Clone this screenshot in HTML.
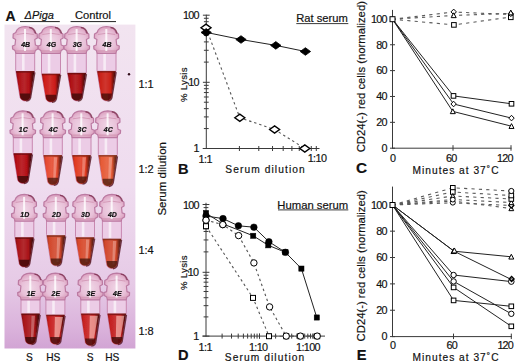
<!DOCTYPE html>
<html><head><meta charset="utf-8"><style>
html,body{margin:0;padding:0;background:#fff;}
body{width:520px;height:364px;position:relative;overflow:hidden;font-family:"Liberation Sans", sans-serif;}
svg text{fill:#111;stroke:#111;stroke-width:0.18px;}
</style></head><body>
<svg style="position:absolute;left:0;top:0" width="520" height="364" viewBox="0 0 520 364"><defs><radialGradient id="capg" cx="0.5" cy="0.55" r="0.6"><stop offset="0" stop-color="#f0d6e6"/><stop offset="0.6" stop-color="#e8c0d8"/><stop offset="1" stop-color="#d898b8"/></radialGradient><filter id="bl" x="-5%" y="-5%" width="110%" height="110%"><feGaussianBlur stdDeviation="0.55"/></filter><linearGradient id="bgg" x1="0" y1="0" x2="0" y2="1"><stop offset="0" stop-color="#f2e4f0"/><stop offset="0.5" stop-color="#efdcef"/><stop offset="0.8" stop-color="#e6cae6"/><stop offset="0.93" stop-color="#dbb4dc"/><stop offset="1" stop-color="#d2a4d4"/></linearGradient><linearGradient id="lg0" x1="0" y1="0" x2="1" y2="0"><stop offset="0" stop-color="#890c11"/><stop offset="0.15" stop-color="#b01016"/><stop offset="0.45" stop-color="#b7272d"/><stop offset="0.72" stop-color="#b01016"/><stop offset="0.86" stop-color="#69090d"/><stop offset="1" stop-color="#340406"/></linearGradient><linearGradient id="lg1" x1="0" y1="0" x2="1" y2="0"><stop offset="0" stop-color="#9f1512"/><stop offset="0.15" stop-color="#cc1c18"/><stop offset="0.45" stop-color="#d1322f"/><stop offset="0.72" stop-color="#cc1c18"/><stop offset="0.86" stop-color="#7a100e"/><stop offset="1" stop-color="#3d0807"/></linearGradient><linearGradient id="lg2" x1="0" y1="0" x2="1" y2="0"><stop offset="0" stop-color="#870c0f"/><stop offset="0.15" stop-color="#ae1014"/><stop offset="0.45" stop-color="#b6272b"/><stop offset="0.72" stop-color="#ae1014"/><stop offset="0.86" stop-color="#68090c"/><stop offset="1" stop-color="#340406"/></linearGradient><linearGradient id="lg3" x1="0" y1="0" x2="1" y2="0"><stop offset="0" stop-color="#9d1812"/><stop offset="0.15" stop-color="#ca2018"/><stop offset="0.45" stop-color="#cf362f"/><stop offset="0.72" stop-color="#ca2018"/><stop offset="0.86" stop-color="#79130e"/><stop offset="1" stop-color="#3c0907"/></linearGradient><linearGradient id="lg4" x1="0" y1="0" x2="1" y2="0"><stop offset="0" stop-color="#8c0c11"/><stop offset="0.15" stop-color="#b41016"/><stop offset="0.45" stop-color="#bb272d"/><stop offset="0.72" stop-color="#b41016"/><stop offset="0.86" stop-color="#6c090d"/><stop offset="1" stop-color="#360406"/></linearGradient><linearGradient id="lg5" x1="0" y1="0" x2="1" y2="0"><stop offset="0" stop-color="#b33925"/><stop offset="0.15" stop-color="#e64a30"/><stop offset="0.45" stop-color="#e85c44"/><stop offset="0.72" stop-color="#e64a30"/><stop offset="0.86" stop-color="#8a2c1c"/><stop offset="1" stop-color="#45160e"/></linearGradient><linearGradient id="lg6" x1="0" y1="0" x2="1" y2="0"><stop offset="0" stop-color="#ae2e1a"/><stop offset="0.15" stop-color="#e03c22"/><stop offset="0.45" stop-color="#e34f38"/><stop offset="0.72" stop-color="#e03c22"/><stop offset="0.86" stop-color="#862414"/><stop offset="1" stop-color="#43120a"/></linearGradient><linearGradient id="lg7" x1="0" y1="0" x2="1" y2="0"><stop offset="0" stop-color="#b3462a"/><stop offset="0.15" stop-color="#e65a36"/><stop offset="0.45" stop-color="#e86a4a"/><stop offset="0.72" stop-color="#e65a36"/><stop offset="0.86" stop-color="#8a3620"/><stop offset="1" stop-color="#451b10"/></linearGradient><linearGradient id="lg8" x1="0" y1="0" x2="1" y2="0"><stop offset="0" stop-color="#840f12"/><stop offset="0.15" stop-color="#aa1418"/><stop offset="0.45" stop-color="#b22b2f"/><stop offset="0.72" stop-color="#aa1418"/><stop offset="0.86" stop-color="#660c0e"/><stop offset="1" stop-color="#330607"/></linearGradient><linearGradient id="lg9" x1="0" y1="0" x2="1" y2="0"><stop offset="0" stop-color="#a33822"/><stop offset="0.15" stop-color="#d2482c"/><stop offset="0.45" stop-color="#d65a41"/><stop offset="0.72" stop-color="#d2482c"/><stop offset="0.86" stop-color="#7e2b1a"/><stop offset="1" stop-color="#3f150d"/></linearGradient><linearGradient id="lg10" x1="0" y1="0" x2="1" y2="0"><stop offset="0" stop-color="#a83820"/><stop offset="0.15" stop-color="#d8482a"/><stop offset="0.45" stop-color="#db5a3f"/><stop offset="0.72" stop-color="#d8482a"/><stop offset="0.86" stop-color="#812b19"/><stop offset="1" stop-color="#40150c"/></linearGradient><linearGradient id="lg11" x1="0" y1="0" x2="1" y2="0"><stop offset="0" stop-color="#830f12"/><stop offset="0.15" stop-color="#a81418"/><stop offset="0.45" stop-color="#b02b2f"/><stop offset="0.72" stop-color="#a81418"/><stop offset="0.86" stop-color="#640c0e"/><stop offset="1" stop-color="#320607"/></linearGradient><linearGradient id="lg12" x1="0" y1="0" x2="1" y2="0"><stop offset="0" stop-color="#9c1818"/><stop offset="0.15" stop-color="#c82020"/><stop offset="0.45" stop-color="#cd3636"/><stop offset="0.72" stop-color="#c82020"/><stop offset="0.86" stop-color="#781313"/><stop offset="1" stop-color="#3c0909"/></linearGradient><linearGradient id="lg13" x1="0" y1="0" x2="1" y2="0"><stop offset="0" stop-color="#9c1a1a"/><stop offset="0.15" stop-color="#c82222"/><stop offset="0.45" stop-color="#cd3838"/><stop offset="0.72" stop-color="#c82222"/><stop offset="0.86" stop-color="#781414"/><stop offset="1" stop-color="#3c0a0a"/></linearGradient><linearGradient id="lg14" x1="0" y1="0" x2="1" y2="0"><stop offset="0" stop-color="#981818"/><stop offset="0.15" stop-color="#c42020"/><stop offset="0.45" stop-color="#c93636"/><stop offset="0.72" stop-color="#c42020"/><stop offset="0.86" stop-color="#751313"/><stop offset="1" stop-color="#3a0909"/></linearGradient></defs><rect x="4.5" y="24.6" width="130.9" height="323.9" fill="url(#bgg)"/><g filter="url(#bl)"><path d="M15.70,52.50 L34.70,52.50 L34.70,70.30 L30.60,96.00 A5.40,5.00 0 0 1 19.80,96.00 L15.70,70.30 Z" fill="#ecccE6" stroke="#c888b0" stroke-width="1"/><path d="M15.96,71.30 L34.44,71.30 L30.50,96.00 A5.30,4.90 0 0 1 19.90,96.00 Z" fill="url(#lg0)"/><path d="M34.90,72.30 L30.90,96.00 A5.70,5.30 0 0 1 26.20,101.20" fill="none" stroke="#4a0c14" stroke-width="1.3" opacity="0.75"/><rect x="16.20" y="71.00" width="18.00" height="1.6" fill="#69090d" opacity="0.8"/><path d="M19.90,93.50 L30.50,93.50 L30.20,96.00 A5.00,4.60 0 0 1 20.20,96.00Z" fill="#3d0507" opacity="0.8"/><rect x="22.00" y="53.50" width="2.6" height="16.80" fill="#ffffff" opacity="0.6"/><path d="M15.90,53.30 L15.10,50.50 L12.60,49.00 L12.40,46.00 L15.00,45.00 L15.60,39.50 L13.00,38.00 L13.20,34.00 L15.80,32.50 Q17.10,26.70 25.20,26.50 Q33.30,26.70 34.60,32.50 L37.20,34.00 L37.40,38.00 L34.80,39.50 L35.40,45.00 L38.00,46.00 L37.80,49.00 L35.30,50.50 L34.50,53.30 Z" fill="url(#capg)" stroke="#bc7aa2" stroke-width="1.2" stroke-linejoin="round"/><rect x="15.60" y="50.10" width="19.20" height="2" fill="#cf8fae" opacity="0.6"/><path d="M16.60,34.50 Q25.20,32.00 33.80,34.50" fill="none" stroke="#cc8aaa" stroke-width="1" opacity="0.7"/><path d="M29.20,27.50 Q34.70,28.00 35.70,33.50" fill="none" stroke="#7a2a48" stroke-width="1.4" opacity="0.75"/><rect x="24.00" y="29.00" width="2" height="22" fill="#ffffff" opacity="0.8"/><text x="25.70" y="46.80" font-size="7" font-style="italic" font-weight="bold" text-anchor="middle" fill="#1a1a1a" font-family="Liberation Sans">4B</text><path d="M41.50,52.50 L60.50,52.50 L60.50,72.90 L56.40,97.20 A5.40,5.00 0 0 1 45.60,97.20 L41.50,72.90 Z" fill="#ecccE6" stroke="#c888b0" stroke-width="1"/><path d="M41.77,73.90 L60.23,73.90 L56.30,97.20 A5.30,4.90 0 0 1 45.70,97.20 Z" fill="url(#lg1)"/><path d="M60.70,74.90 L56.70,97.20 A5.70,5.30 0 0 1 52.00,102.40" fill="none" stroke="#4a0c14" stroke-width="1.3" opacity="0.75"/><rect x="42.00" y="73.60" width="18.00" height="1.6" fill="#7a100e" opacity="0.8"/><path d="M45.70,94.70 L56.30,94.70 L56.00,97.20 A5.00,4.60 0 0 1 46.00,97.20Z" fill="#470908" opacity="0.8"/><rect x="47.80" y="53.50" width="2.6" height="19.40" fill="#ffffff" opacity="0.6"/><path d="M41.70,53.30 L40.90,50.50 L38.40,49.00 L38.20,46.00 L40.80,45.00 L41.40,39.50 L38.80,38.00 L39.00,34.00 L41.60,32.50 Q42.90,26.70 51.00,26.50 Q59.10,26.70 60.40,32.50 L63.00,34.00 L63.20,38.00 L60.60,39.50 L61.20,45.00 L63.80,46.00 L63.60,49.00 L61.10,50.50 L60.30,53.30 Z" fill="url(#capg)" stroke="#bc7aa2" stroke-width="1.2" stroke-linejoin="round"/><rect x="41.40" y="50.10" width="19.20" height="2" fill="#cf8fae" opacity="0.6"/><path d="M42.40,34.50 Q51.00,32.00 59.60,34.50" fill="none" stroke="#cc8aaa" stroke-width="1" opacity="0.7"/><path d="M55.00,27.50 Q60.50,28.00 61.50,33.50" fill="none" stroke="#7a2a48" stroke-width="1.4" opacity="0.75"/><rect x="49.80" y="29.00" width="2" height="22" fill="#ffffff" opacity="0.8"/><text x="51.50" y="46.80" font-size="7" font-style="italic" font-weight="bold" text-anchor="middle" fill="#1a1a1a" font-family="Liberation Sans">4G</text><path d="M67.30,52.50 L86.30,52.50 L86.30,72.10 L82.20,95.90 A5.40,5.00 0 0 1 71.40,95.90 L67.30,72.10 Z" fill="#ecccE6" stroke="#c888b0" stroke-width="1"/><path d="M67.57,73.10 L86.03,73.10 L82.10,95.90 A5.30,4.90 0 0 1 71.50,95.90 Z" fill="url(#lg2)"/><path d="M86.50,74.10 L82.50,95.90 A5.70,5.30 0 0 1 77.80,101.10" fill="none" stroke="#4a0c14" stroke-width="1.3" opacity="0.75"/><rect x="67.80" y="72.80" width="18.00" height="1.6" fill="#68090c" opacity="0.8"/><path d="M71.50,93.40 L82.10,93.40 L81.80,95.90 A5.00,4.60 0 0 1 71.80,95.90Z" fill="#3c0507" opacity="0.8"/><rect x="73.60" y="53.50" width="2.6" height="18.60" fill="#ffffff" opacity="0.6"/><path d="M67.50,53.30 L66.70,50.50 L64.20,49.00 L64.00,46.00 L66.60,45.00 L67.20,39.50 L64.60,38.00 L64.80,34.00 L67.40,32.50 Q68.70,26.70 76.80,26.50 Q84.90,26.70 86.20,32.50 L88.80,34.00 L89.00,38.00 L86.40,39.50 L87.00,45.00 L89.60,46.00 L89.40,49.00 L86.90,50.50 L86.10,53.30 Z" fill="url(#capg)" stroke="#bc7aa2" stroke-width="1.2" stroke-linejoin="round"/><rect x="67.20" y="50.10" width="19.20" height="2" fill="#cf8fae" opacity="0.6"/><path d="M68.20,34.50 Q76.80,32.00 85.40,34.50" fill="none" stroke="#cc8aaa" stroke-width="1" opacity="0.7"/><path d="M80.80,27.50 Q86.30,28.00 87.30,33.50" fill="none" stroke="#7a2a48" stroke-width="1.4" opacity="0.75"/><rect x="75.60" y="29.00" width="2" height="22" fill="#ffffff" opacity="0.8"/><text x="77.30" y="46.80" font-size="7" font-style="italic" font-weight="bold" text-anchor="middle" fill="#1a1a1a" font-family="Liberation Sans">3G</text><path d="M97.00,52.50 L116.00,52.50 L116.00,70.20 L111.90,95.90 A5.40,5.00 0 0 1 101.10,95.90 L97.00,70.20 Z" fill="#ecccE6" stroke="#c888b0" stroke-width="1"/><path d="M97.26,71.20 L115.74,71.20 L111.80,95.90 A5.30,4.90 0 0 1 101.20,95.90 Z" fill="url(#lg3)"/><path d="M116.20,72.20 L112.20,95.90 A5.70,5.30 0 0 1 107.50,101.10" fill="none" stroke="#4a0c14" stroke-width="1.3" opacity="0.75"/><rect x="97.50" y="70.90" width="18.00" height="1.6" fill="#79130e" opacity="0.8"/><path d="M101.20,93.40 L111.80,93.40 L111.50,95.90 A5.00,4.60 0 0 1 101.50,95.90Z" fill="#460b08" opacity="0.8"/><rect x="103.30" y="53.50" width="2.6" height="16.70" fill="#ffffff" opacity="0.6"/><path d="M97.20,53.30 L96.40,50.50 L93.90,49.00 L93.70,46.00 L96.30,45.00 L96.90,39.50 L94.30,38.00 L94.50,34.00 L97.10,32.50 Q98.40,26.70 106.50,26.50 Q114.60,26.70 115.90,32.50 L118.50,34.00 L118.70,38.00 L116.10,39.50 L116.70,45.00 L119.30,46.00 L119.10,49.00 L116.60,50.50 L115.80,53.30 Z" fill="url(#capg)" stroke="#bc7aa2" stroke-width="1.2" stroke-linejoin="round"/><rect x="96.90" y="50.10" width="19.20" height="2" fill="#cf8fae" opacity="0.6"/><path d="M97.90,34.50 Q106.50,32.00 115.10,34.50" fill="none" stroke="#cc8aaa" stroke-width="1" opacity="0.7"/><path d="M110.50,27.50 Q116.00,28.00 117.00,33.50" fill="none" stroke="#7a2a48" stroke-width="1.4" opacity="0.75"/><rect x="105.30" y="29.00" width="2" height="22" fill="#ffffff" opacity="0.8"/><text x="107.00" y="46.80" font-size="7" font-style="italic" font-weight="bold" text-anchor="middle" fill="#1a1a1a" font-family="Liberation Sans">4B</text><path d="M13.30,136.80 L32.30,136.80 L32.30,152.50 L28.20,178.50 A5.40,5.00 0 0 1 17.40,178.50 L13.30,152.50 Z" fill="#ecccE6" stroke="#c888b0" stroke-width="1"/><path d="M13.56,153.50 L32.04,153.50 L28.10,178.50 A5.30,4.90 0 0 1 17.50,178.50 Z" fill="url(#lg4)"/><path d="M32.50,154.50 L28.50,178.50 A5.70,5.30 0 0 1 23.80,183.70" fill="none" stroke="#4a0c14" stroke-width="1.3" opacity="0.75"/><rect x="13.80" y="153.20" width="18.00" height="1.6" fill="#6c090d" opacity="0.8"/><path d="M17.50,176.00 L28.10,176.00 L27.80,178.50 A5.00,4.60 0 0 1 17.80,178.50Z" fill="#3e0507" opacity="0.8"/><rect x="19.60" y="137.80" width="2.6" height="14.70" fill="#ffffff" opacity="0.6"/><path d="M13.50,137.60 L12.70,134.80 L10.20,133.30 L10.00,130.30 L12.60,129.30 L13.20,123.80 L10.60,122.30 L10.80,118.30 L13.40,116.80 Q14.70,111.00 22.80,110.80 Q30.90,111.00 32.20,116.80 L34.80,118.30 L35.00,122.30 L32.40,123.80 L33.00,129.30 L35.60,130.30 L35.40,133.30 L32.90,134.80 L32.10,137.60 Z" fill="url(#capg)" stroke="#bc7aa2" stroke-width="1.2" stroke-linejoin="round"/><rect x="13.20" y="134.40" width="19.20" height="2" fill="#cf8fae" opacity="0.6"/><path d="M14.20,118.80 Q22.80,116.30 31.40,118.80" fill="none" stroke="#cc8aaa" stroke-width="1" opacity="0.7"/><path d="M26.80,111.80 Q32.30,112.30 33.30,117.80" fill="none" stroke="#7a2a48" stroke-width="1.4" opacity="0.75"/><rect x="21.60" y="113.30" width="2" height="22" fill="#ffffff" opacity="0.8"/><text x="23.30" y="131.60" font-size="7" font-style="italic" font-weight="bold" text-anchor="middle" fill="#1a1a1a" font-family="Liberation Sans">1C</text><path d="M43.30,136.80 L62.30,136.80 L62.30,154.30 L58.20,180.20 A5.40,5.00 0 0 1 47.40,180.20 L43.30,154.30 Z" fill="#ecccE6" stroke="#c888b0" stroke-width="1"/><path d="M43.56,155.30 L62.04,155.30 L58.10,180.20 A5.30,4.90 0 0 1 47.50,180.20 Z" fill="url(#lg5)"/><path d="M53.80,157.30 L57.30,157.30 L55.40,181.20 L53.20,181.20 Z" fill="#ffffff" opacity="0.3"/><path d="M62.50,156.30 L58.50,180.20 A5.70,5.30 0 0 1 53.80,185.40" fill="none" stroke="#4a0c14" stroke-width="1.3" opacity="0.75"/><rect x="43.80" y="155.00" width="18.00" height="1.6" fill="#8a2c1c" opacity="0.8"/><path d="M47.50,177.70 L58.10,177.70 L57.80,180.20 A5.00,4.60 0 0 1 47.80,180.20Z" fill="#501910" opacity="0.8"/><rect x="49.60" y="137.80" width="2.6" height="16.50" fill="#ffffff" opacity="0.6"/><path d="M43.50,137.60 L42.70,134.80 L40.20,133.30 L40.00,130.30 L42.60,129.30 L43.20,123.80 L40.60,122.30 L40.80,118.30 L43.40,116.80 Q44.70,111.00 52.80,110.80 Q60.90,111.00 62.20,116.80 L64.80,118.30 L65.00,122.30 L62.40,123.80 L63.00,129.30 L65.60,130.30 L65.40,133.30 L62.90,134.80 L62.10,137.60 Z" fill="url(#capg)" stroke="#bc7aa2" stroke-width="1.2" stroke-linejoin="round"/><rect x="43.20" y="134.40" width="19.20" height="2" fill="#cf8fae" opacity="0.6"/><path d="M44.20,118.80 Q52.80,116.30 61.40,118.80" fill="none" stroke="#cc8aaa" stroke-width="1" opacity="0.7"/><path d="M56.80,111.80 Q62.30,112.30 63.30,117.80" fill="none" stroke="#7a2a48" stroke-width="1.4" opacity="0.75"/><rect x="51.60" y="113.30" width="2" height="22" fill="#ffffff" opacity="0.8"/><text x="53.30" y="131.60" font-size="7" font-style="italic" font-weight="bold" text-anchor="middle" fill="#1a1a1a" font-family="Liberation Sans">4C</text><path d="M72.00,136.80 L91.00,136.80 L91.00,154.30 L86.90,179.00 A5.40,5.00 0 0 1 76.10,179.00 L72.00,154.30 Z" fill="#ecccE6" stroke="#c888b0" stroke-width="1"/><path d="M72.27,155.30 L90.73,155.30 L86.80,179.00 A5.30,4.90 0 0 1 76.20,179.00 Z" fill="url(#lg6)"/><path d="M82.50,157.30 L86.00,157.30 L84.10,180.00 L81.90,180.00 Z" fill="#ffffff" opacity="0.3"/><path d="M91.20,156.30 L87.20,179.00 A5.70,5.30 0 0 1 82.50,184.20" fill="none" stroke="#4a0c14" stroke-width="1.3" opacity="0.75"/><rect x="72.50" y="155.00" width="18.00" height="1.6" fill="#862414" opacity="0.8"/><path d="M76.20,176.50 L86.80,176.50 L86.50,179.00 A5.00,4.60 0 0 1 76.50,179.00Z" fill="#4e150b" opacity="0.8"/><rect x="78.30" y="137.80" width="2.6" height="16.50" fill="#ffffff" opacity="0.6"/><path d="M72.20,137.60 L71.40,134.80 L68.90,133.30 L68.70,130.30 L71.30,129.30 L71.90,123.80 L69.30,122.30 L69.50,118.30 L72.10,116.80 Q73.40,111.00 81.50,110.80 Q89.60,111.00 90.90,116.80 L93.50,118.30 L93.70,122.30 L91.10,123.80 L91.70,129.30 L94.30,130.30 L94.10,133.30 L91.60,134.80 L90.80,137.60 Z" fill="url(#capg)" stroke="#bc7aa2" stroke-width="1.2" stroke-linejoin="round"/><rect x="71.90" y="134.40" width="19.20" height="2" fill="#cf8fae" opacity="0.6"/><path d="M72.90,118.80 Q81.50,116.30 90.10,118.80" fill="none" stroke="#cc8aaa" stroke-width="1" opacity="0.7"/><path d="M85.50,111.80 Q91.00,112.30 92.00,117.80" fill="none" stroke="#7a2a48" stroke-width="1.4" opacity="0.75"/><rect x="80.30" y="113.30" width="2" height="22" fill="#ffffff" opacity="0.8"/><text x="82.00" y="131.60" font-size="7" font-style="italic" font-weight="bold" text-anchor="middle" fill="#1a1a1a" font-family="Liberation Sans">3C</text><path d="M98.30,136.80 L117.30,136.80 L117.30,154.30 L113.20,181.30 A5.40,5.00 0 0 1 102.40,181.30 L98.30,154.30 Z" fill="#ecccE6" stroke="#c888b0" stroke-width="1"/><path d="M98.55,155.30 L117.05,155.30 L113.10,181.30 A5.30,4.90 0 0 1 102.50,181.30 Z" fill="url(#lg7)"/><path d="M108.80,157.30 L112.30,157.30 L110.40,182.30 L108.20,182.30 Z" fill="#ffffff" opacity="0.3"/><path d="M117.50,156.30 L113.50,181.30 A5.70,5.30 0 0 1 108.80,186.50" fill="none" stroke="#4a0c14" stroke-width="1.3" opacity="0.75"/><rect x="98.80" y="155.00" width="18.00" height="1.6" fill="#8a3620" opacity="0.8"/><path d="M102.50,178.80 L113.10,178.80 L112.80,181.30 A5.00,4.60 0 0 1 102.80,181.30Z" fill="#501f12" opacity="0.8"/><rect x="104.60" y="137.80" width="2.6" height="16.50" fill="#ffffff" opacity="0.6"/><path d="M98.50,137.60 L97.70,134.80 L95.20,133.30 L95.00,130.30 L97.60,129.30 L98.20,123.80 L95.60,122.30 L95.80,118.30 L98.40,116.80 Q99.70,111.00 107.80,110.80 Q115.90,111.00 117.20,116.80 L119.80,118.30 L120.00,122.30 L117.40,123.80 L118.00,129.30 L120.60,130.30 L120.40,133.30 L117.90,134.80 L117.10,137.60 Z" fill="url(#capg)" stroke="#bc7aa2" stroke-width="1.2" stroke-linejoin="round"/><rect x="98.20" y="134.40" width="19.20" height="2" fill="#cf8fae" opacity="0.6"/><path d="M99.20,118.80 Q107.80,116.30 116.40,118.80" fill="none" stroke="#cc8aaa" stroke-width="1" opacity="0.7"/><path d="M111.80,111.80 Q117.30,112.30 118.30,117.80" fill="none" stroke="#7a2a48" stroke-width="1.4" opacity="0.75"/><rect x="106.60" y="113.30" width="2" height="22" fill="#ffffff" opacity="0.8"/><text x="108.30" y="131.60" font-size="7" font-style="italic" font-weight="bold" text-anchor="middle" fill="#1a1a1a" font-family="Liberation Sans">4C</text><path d="M14.80,220.40 L33.80,220.40 L33.80,236.60 L29.70,262.20 A5.40,5.00 0 0 1 18.90,262.20 L14.80,236.60 Z" fill="#ecccE6" stroke="#c888b0" stroke-width="1"/><path d="M15.06,237.60 L33.54,237.60 L29.60,262.20 A5.30,4.90 0 0 1 19.00,262.20 Z" fill="url(#lg8)"/><path d="M34.00,238.60 L30.00,262.20 A5.70,5.30 0 0 1 25.30,267.40" fill="none" stroke="#4a0c14" stroke-width="1.3" opacity="0.75"/><rect x="15.30" y="237.30" width="18.00" height="1.6" fill="#660c0e" opacity="0.8"/><path d="M19.00,259.70 L29.60,259.70 L29.30,262.20 A5.00,4.60 0 0 1 19.30,262.20Z" fill="#3b0708" opacity="0.8"/><rect x="21.10" y="221.40" width="2.6" height="15.20" fill="#ffffff" opacity="0.6"/><path d="M15.00,221.20 L14.20,218.40 L11.70,216.90 L11.50,213.90 L14.10,212.90 L14.70,207.40 L12.10,205.90 L12.30,201.90 L14.90,200.40 Q16.20,194.60 24.30,194.40 Q32.40,194.60 33.70,200.40 L36.30,201.90 L36.50,205.90 L33.90,207.40 L34.50,212.90 L37.10,213.90 L36.90,216.90 L34.40,218.40 L33.60,221.20 Z" fill="url(#capg)" stroke="#bc7aa2" stroke-width="1.2" stroke-linejoin="round"/><rect x="14.70" y="218.00" width="19.20" height="2" fill="#cf8fae" opacity="0.6"/><path d="M15.70,202.40 Q24.30,199.90 32.90,202.40" fill="none" stroke="#cc8aaa" stroke-width="1" opacity="0.7"/><path d="M28.30,195.40 Q33.80,195.90 34.80,201.40" fill="none" stroke="#7a2a48" stroke-width="1.4" opacity="0.75"/><rect x="23.10" y="196.90" width="2" height="22" fill="#ffffff" opacity="0.8"/><text x="24.80" y="216.70" font-size="7" font-style="italic" font-weight="bold" text-anchor="middle" fill="#1a1a1a" font-family="Liberation Sans">1D</text><path d="M46.50,220.40 L65.50,220.40 L65.50,234.50 L61.40,260.90 A5.40,5.00 0 0 1 50.60,260.90 L46.50,234.50 Z" fill="#ecccE6" stroke="#c888b0" stroke-width="1"/><path d="M46.76,235.50 L65.24,235.50 L61.30,260.90 A5.30,4.90 0 0 1 50.70,260.90 Z" fill="url(#lg9)"/><path d="M57.00,237.50 L60.50,237.50 L58.60,261.90 L56.40,261.90 Z" fill="#ffffff" opacity="0.3"/><path d="M65.70,236.50 L61.70,260.90 A5.70,5.30 0 0 1 57.00,266.10" fill="none" stroke="#4a0c14" stroke-width="1.3" opacity="0.75"/><rect x="47.00" y="235.20" width="18.00" height="1.6" fill="#7e2b1a" opacity="0.8"/><path d="M50.70,258.40 L61.30,258.40 L61.00,260.90 A5.00,4.60 0 0 1 51.00,260.90Z" fill="#49190f" opacity="0.8"/><rect x="52.80" y="221.40" width="2.6" height="13.10" fill="#ffffff" opacity="0.6"/><path d="M46.70,221.20 L45.90,218.40 L43.40,216.90 L43.20,213.90 L45.80,212.90 L46.40,207.40 L43.80,205.90 L44.00,201.90 L46.60,200.40 Q47.90,194.60 56.00,194.40 Q64.10,194.60 65.40,200.40 L68.00,201.90 L68.20,205.90 L65.60,207.40 L66.20,212.90 L68.80,213.90 L68.60,216.90 L66.10,218.40 L65.30,221.20 Z" fill="url(#capg)" stroke="#bc7aa2" stroke-width="1.2" stroke-linejoin="round"/><rect x="46.40" y="218.00" width="19.20" height="2" fill="#cf8fae" opacity="0.6"/><path d="M47.40,202.40 Q56.00,199.90 64.60,202.40" fill="none" stroke="#cc8aaa" stroke-width="1" opacity="0.7"/><path d="M60.00,195.40 Q65.50,195.90 66.50,201.40" fill="none" stroke="#7a2a48" stroke-width="1.4" opacity="0.75"/><rect x="54.80" y="196.90" width="2" height="22" fill="#ffffff" opacity="0.8"/><text x="56.50" y="216.70" font-size="7" font-style="italic" font-weight="bold" text-anchor="middle" fill="#1a1a1a" font-family="Liberation Sans">2D</text><path d="M75.50,220.40 L94.50,220.40 L94.50,236.60 L90.40,260.90 A5.40,5.00 0 0 1 79.60,260.90 L75.50,236.60 Z" fill="#ecccE6" stroke="#c888b0" stroke-width="1"/><path d="M75.77,237.60 L94.23,237.60 L90.30,260.90 A5.30,4.90 0 0 1 79.70,260.90 Z" fill="url(#lg10)"/><path d="M86.00,239.60 L89.50,239.60 L87.60,261.90 L85.40,261.90 Z" fill="#ffffff" opacity="0.3"/><path d="M94.70,238.60 L90.70,260.90 A5.70,5.30 0 0 1 86.00,266.10" fill="none" stroke="#4a0c14" stroke-width="1.3" opacity="0.75"/><rect x="76.00" y="237.30" width="18.00" height="1.6" fill="#812b19" opacity="0.8"/><path d="M79.70,258.40 L90.30,258.40 L90.00,260.90 A5.00,4.60 0 0 1 80.00,260.90Z" fill="#4b190e" opacity="0.8"/><rect x="81.80" y="221.40" width="2.6" height="15.20" fill="#ffffff" opacity="0.6"/><path d="M75.70,221.20 L74.90,218.40 L72.40,216.90 L72.20,213.90 L74.80,212.90 L75.40,207.40 L72.80,205.90 L73.00,201.90 L75.60,200.40 Q76.90,194.60 85.00,194.40 Q93.10,194.60 94.40,200.40 L97.00,201.90 L97.20,205.90 L94.60,207.40 L95.20,212.90 L97.80,213.90 L97.60,216.90 L95.10,218.40 L94.30,221.20 Z" fill="url(#capg)" stroke="#bc7aa2" stroke-width="1.2" stroke-linejoin="round"/><rect x="75.40" y="218.00" width="19.20" height="2" fill="#cf8fae" opacity="0.6"/><path d="M76.40,202.40 Q85.00,199.90 93.60,202.40" fill="none" stroke="#cc8aaa" stroke-width="1" opacity="0.7"/><path d="M89.00,195.40 Q94.50,195.90 95.50,201.40" fill="none" stroke="#7a2a48" stroke-width="1.4" opacity="0.75"/><rect x="83.80" y="196.90" width="2" height="22" fill="#ffffff" opacity="0.8"/><text x="85.50" y="216.70" font-size="7" font-style="italic" font-weight="bold" text-anchor="middle" fill="#1a1a1a" font-family="Liberation Sans">3D</text><path d="M102.40,220.40 L121.40,220.40 L121.40,237.90 L117.30,263.60 A5.40,5.00 0 0 1 106.50,263.60 L102.40,237.90 Z" fill="#ecccE6" stroke="#c888b0" stroke-width="1"/><path d="M102.66,238.90 L121.14,238.90 L117.20,263.60 A5.30,4.90 0 0 1 106.60,263.60 Z" fill="url(#lg9)"/><path d="M112.90,240.90 L116.40,240.90 L114.50,264.60 L112.30,264.60 Z" fill="#ffffff" opacity="0.3"/><path d="M121.60,239.90 L117.60,263.60 A5.70,5.30 0 0 1 112.90,268.80" fill="none" stroke="#4a0c14" stroke-width="1.3" opacity="0.75"/><rect x="102.90" y="238.60" width="18.00" height="1.6" fill="#7e2b1a" opacity="0.8"/><path d="M106.60,261.10 L117.20,261.10 L116.90,263.60 A5.00,4.60 0 0 1 106.90,263.60Z" fill="#49190f" opacity="0.8"/><rect x="108.70" y="221.40" width="2.6" height="16.50" fill="#ffffff" opacity="0.6"/><path d="M102.60,221.20 L101.80,218.40 L99.30,216.90 L99.10,213.90 L101.70,212.90 L102.30,207.40 L99.70,205.90 L99.90,201.90 L102.50,200.40 Q103.80,194.60 111.90,194.40 Q120.00,194.60 121.30,200.40 L123.90,201.90 L124.10,205.90 L121.50,207.40 L122.10,212.90 L124.70,213.90 L124.50,216.90 L122.00,218.40 L121.20,221.20 Z" fill="url(#capg)" stroke="#bc7aa2" stroke-width="1.2" stroke-linejoin="round"/><rect x="102.30" y="218.00" width="19.20" height="2" fill="#cf8fae" opacity="0.6"/><path d="M103.30,202.40 Q111.90,199.90 120.50,202.40" fill="none" stroke="#cc8aaa" stroke-width="1" opacity="0.7"/><path d="M115.90,195.40 Q121.40,195.90 122.40,201.40" fill="none" stroke="#7a2a48" stroke-width="1.4" opacity="0.75"/><rect x="110.70" y="196.90" width="2" height="22" fill="#ffffff" opacity="0.8"/><text x="112.40" y="216.70" font-size="7" font-style="italic" font-weight="bold" text-anchor="middle" fill="#1a1a1a" font-family="Liberation Sans">4D</text><path d="M21.00,299.10 L40.00,299.10 L40.00,312.80 L35.90,339.50 A5.40,5.00 0 0 1 25.10,339.50 L21.00,312.80 Z" fill="#ecccE6" stroke="#c888b0" stroke-width="1"/><path d="M21.25,313.80 L39.75,313.80 L35.80,339.50 A5.30,4.90 0 0 1 25.20,339.50 Z" fill="url(#lg11)"/><path d="M31.50,315.80 L35.00,315.80 L33.10,340.50 L30.90,340.50 Z" fill="#ffffff" opacity="0.3"/><path d="M40.20,314.80 L36.20,339.50 A5.70,5.30 0 0 1 31.50,344.70" fill="none" stroke="#4a0c14" stroke-width="1.3" opacity="0.75"/><rect x="21.50" y="313.50" width="18.00" height="1.6" fill="#640c0e" opacity="0.8"/><path d="M25.20,337.00 L35.80,337.00 L35.50,339.50 A5.00,4.60 0 0 1 25.50,339.50Z" fill="#3a0708" opacity="0.8"/><rect x="27.30" y="300.10" width="2.6" height="12.70" fill="#ffffff" opacity="0.6"/><path d="M21.20,299.90 L20.40,297.10 L17.90,295.60 L17.70,292.60 L20.30,291.60 L20.90,286.10 L18.30,284.60 L18.50,280.60 L21.10,279.10 Q22.40,273.30 30.50,273.10 Q38.60,273.30 39.90,279.10 L42.50,280.60 L42.70,284.60 L40.10,286.10 L40.70,291.60 L43.30,292.60 L43.10,295.60 L40.60,297.10 L39.80,299.90 Z" fill="url(#capg)" stroke="#bc7aa2" stroke-width="1.2" stroke-linejoin="round"/><rect x="20.90" y="296.70" width="19.20" height="2" fill="#cf8fae" opacity="0.6"/><path d="M21.90,281.10 Q30.50,278.60 39.10,281.10" fill="none" stroke="#cc8aaa" stroke-width="1" opacity="0.7"/><path d="M34.50,274.10 Q40.00,274.60 41.00,280.10" fill="none" stroke="#7a2a48" stroke-width="1.4" opacity="0.75"/><rect x="29.30" y="275.60" width="2" height="22" fill="#ffffff" opacity="0.8"/><text x="31.00" y="296.40" font-size="7" font-style="italic" font-weight="bold" text-anchor="middle" fill="#1a1a1a" font-family="Liberation Sans">1E</text><path d="M45.90,299.10 L64.90,299.10 L64.90,313.90 L60.80,339.50 A5.40,5.00 0 0 1 50.00,339.50 L45.90,313.90 Z" fill="#ecccE6" stroke="#c888b0" stroke-width="1"/><path d="M46.16,314.90 L64.64,314.90 L60.70,339.50 A5.30,4.90 0 0 1 50.10,339.50 Z" fill="url(#lg12)"/><path d="M54.90,316.90 L62.90,316.90 L58.90,338.50 L54.40,338.50 Z" fill="#ffd0c8" opacity="0.6"/><path d="M65.10,315.90 L61.10,339.50 A5.70,5.30 0 0 1 56.40,344.70" fill="none" stroke="#4a0c14" stroke-width="1.3" opacity="0.75"/><rect x="46.40" y="314.60" width="18.00" height="1.6" fill="#781313" opacity="0.8"/><path d="M50.10,337.00 L60.70,337.00 L60.40,339.50 A5.00,4.60 0 0 1 50.40,339.50Z" fill="#460b0b" opacity="0.8"/><rect x="52.20" y="300.10" width="2.6" height="13.80" fill="#ffffff" opacity="0.6"/><path d="M46.10,299.90 L45.30,297.10 L42.80,295.60 L42.60,292.60 L45.20,291.60 L45.80,286.10 L43.20,284.60 L43.40,280.60 L46.00,279.10 Q47.30,273.30 55.40,273.10 Q63.50,273.30 64.80,279.10 L67.40,280.60 L67.60,284.60 L65.00,286.10 L65.60,291.60 L68.20,292.60 L68.00,295.60 L65.50,297.10 L64.70,299.90 Z" fill="url(#capg)" stroke="#bc7aa2" stroke-width="1.2" stroke-linejoin="round"/><rect x="45.80" y="296.70" width="19.20" height="2" fill="#cf8fae" opacity="0.6"/><path d="M46.80,281.10 Q55.40,278.60 64.00,281.10" fill="none" stroke="#cc8aaa" stroke-width="1" opacity="0.7"/><path d="M59.40,274.10 Q64.90,274.60 65.90,280.10" fill="none" stroke="#7a2a48" stroke-width="1.4" opacity="0.75"/><rect x="54.20" y="275.60" width="2" height="22" fill="#ffffff" opacity="0.8"/><text x="55.90" y="296.40" font-size="7" font-style="italic" font-weight="bold" text-anchor="middle" fill="#1a1a1a" font-family="Liberation Sans">2E</text><path d="M80.80,299.10 L99.80,299.10 L99.80,312.80 L95.70,340.90 A5.40,5.00 0 0 1 84.90,340.90 L80.80,312.80 Z" fill="#ecccE6" stroke="#c888b0" stroke-width="1"/><path d="M81.05,313.80 L99.55,313.80 L95.60,340.90 A5.30,4.90 0 0 1 85.00,340.90 Z" fill="url(#lg13)"/><path d="M89.80,315.80 L97.80,315.80 L93.80,339.90 L89.30,339.90 Z" fill="#ffd0c8" opacity="0.6"/><path d="M100.00,314.80 L96.00,340.90 A5.70,5.30 0 0 1 91.30,346.10" fill="none" stroke="#4a0c14" stroke-width="1.3" opacity="0.75"/><rect x="81.30" y="313.50" width="18.00" height="1.6" fill="#781414" opacity="0.8"/><path d="M85.00,338.40 L95.60,338.40 L95.30,340.90 A5.00,4.60 0 0 1 85.30,340.90Z" fill="#460b0b" opacity="0.8"/><rect x="87.10" y="300.10" width="2.6" height="12.70" fill="#ffffff" opacity="0.6"/><path d="M81.00,299.90 L80.20,297.10 L77.70,295.60 L77.50,292.60 L80.10,291.60 L80.70,286.10 L78.10,284.60 L78.30,280.60 L80.90,279.10 Q82.20,273.30 90.30,273.10 Q98.40,273.30 99.70,279.10 L102.30,280.60 L102.50,284.60 L99.90,286.10 L100.50,291.60 L103.10,292.60 L102.90,295.60 L100.40,297.10 L99.60,299.90 Z" fill="url(#capg)" stroke="#bc7aa2" stroke-width="1.2" stroke-linejoin="round"/><rect x="80.70" y="296.70" width="19.20" height="2" fill="#cf8fae" opacity="0.6"/><path d="M81.70,281.10 Q90.30,278.60 98.90,281.10" fill="none" stroke="#cc8aaa" stroke-width="1" opacity="0.7"/><path d="M94.30,274.10 Q99.80,274.60 100.80,280.10" fill="none" stroke="#7a2a48" stroke-width="1.4" opacity="0.75"/><rect x="89.10" y="275.60" width="2" height="22" fill="#ffffff" opacity="0.8"/><text x="90.80" y="296.40" font-size="7" font-style="italic" font-weight="bold" text-anchor="middle" fill="#1a1a1a" font-family="Liberation Sans">3E</text><path d="M107.30,299.10 L126.30,299.10 L126.30,312.80 L122.20,339.50 A5.40,5.00 0 0 1 111.40,339.50 L107.30,312.80 Z" fill="#ecccE6" stroke="#c888b0" stroke-width="1"/><path d="M107.55,313.80 L126.05,313.80 L122.10,339.50 A5.30,4.90 0 0 1 111.50,339.50 Z" fill="url(#lg14)"/><path d="M116.30,315.80 L124.30,315.80 L120.30,338.50 L115.80,338.50 Z" fill="#ffd0c8" opacity="0.6"/><path d="M126.50,314.80 L122.50,339.50 A5.70,5.30 0 0 1 117.80,344.70" fill="none" stroke="#4a0c14" stroke-width="1.3" opacity="0.75"/><rect x="107.80" y="313.50" width="18.00" height="1.6" fill="#751313" opacity="0.8"/><path d="M111.50,337.00 L122.10,337.00 L121.80,339.50 A5.00,4.60 0 0 1 111.80,339.50Z" fill="#440b0b" opacity="0.8"/><rect x="113.60" y="300.10" width="2.6" height="12.70" fill="#ffffff" opacity="0.6"/><path d="M107.50,299.90 L106.70,297.10 L104.20,295.60 L104.00,292.60 L106.60,291.60 L107.20,286.10 L104.60,284.60 L104.80,280.60 L107.40,279.10 Q108.70,273.30 116.80,273.10 Q124.90,273.30 126.20,279.10 L128.80,280.60 L129.00,284.60 L126.40,286.10 L127.00,291.60 L129.60,292.60 L129.40,295.60 L126.90,297.10 L126.10,299.90 Z" fill="url(#capg)" stroke="#bc7aa2" stroke-width="1.2" stroke-linejoin="round"/><rect x="107.20" y="296.70" width="19.20" height="2" fill="#cf8fae" opacity="0.6"/><path d="M108.20,281.10 Q116.80,278.60 125.40,281.10" fill="none" stroke="#cc8aaa" stroke-width="1" opacity="0.7"/><path d="M120.80,274.10 Q126.30,274.60 127.30,280.10" fill="none" stroke="#7a2a48" stroke-width="1.4" opacity="0.75"/><rect x="115.60" y="275.60" width="2" height="22" fill="#ffffff" opacity="0.8"/><text x="117.30" y="296.40" font-size="7" font-style="italic" font-weight="bold" text-anchor="middle" fill="#1a1a1a" font-family="Liberation Sans">4E</text><circle cx="129" cy="74.3" r="1.2" fill="#301018"/></g></svg>
<svg style="position:absolute;left:0;top:0" width="520" height="364" viewBox="0 0 520 364" font-family='"Liberation Sans", sans-serif'><line x1="206.3" y1="14.7" x2="206.3" y2="149.0" stroke="#3a3a3a" stroke-width="1"/><line x1="202.8" y1="148.5" x2="319.5" y2="148.5" stroke="#3a3a3a" stroke-width="1"/><line x1="202.9" y1="148.5" x2="209.70000000000002" y2="148.5" stroke="#3a3a3a" stroke-width="1"/><line x1="203.9" y1="128.57181428704445" x2="208.70000000000002" y2="128.57181428704445" stroke="#3a3a3a" stroke-width="1"/><line x1="203.9" y1="116.91457293755835" x2="208.70000000000002" y2="116.91457293755835" stroke="#3a3a3a" stroke-width="1"/><line x1="203.9" y1="108.6436285740889" x2="208.70000000000002" y2="108.6436285740889" stroke="#3a3a3a" stroke-width="1"/><line x1="203.9" y1="102.22818571295555" x2="208.70000000000002" y2="102.22818571295555" stroke="#3a3a3a" stroke-width="1"/><line x1="203.9" y1="96.9863872246028" x2="208.70000000000002" y2="96.9863872246028" stroke="#3a3a3a" stroke-width="1"/><line x1="203.9" y1="92.5545097510562" x2="208.70000000000002" y2="92.5545097510562" stroke="#3a3a3a" stroke-width="1"/><line x1="203.9" y1="88.71544286113334" x2="208.70000000000002" y2="88.71544286113334" stroke="#3a3a3a" stroke-width="1"/><line x1="203.9" y1="85.3291458751167" x2="208.70000000000002" y2="85.3291458751167" stroke="#3a3a3a" stroke-width="1"/><line x1="202.9" y1="82.3" x2="209.70000000000002" y2="82.3" stroke="#3a3a3a" stroke-width="1"/><line x1="203.9" y1="62.10088729094686" x2="208.70000000000002" y2="62.10088729094686" stroke="#3a3a3a" stroke-width="1"/><line x1="203.9" y1="50.28516380831065" x2="208.70000000000002" y2="50.28516380831065" stroke="#3a3a3a" stroke-width="1"/><line x1="203.9" y1="41.901774581893726" x2="208.70000000000002" y2="41.901774581893726" stroke="#3a3a3a" stroke-width="1"/><line x1="203.9" y1="35.399112709053135" x2="208.70000000000002" y2="35.399112709053135" stroke="#3a3a3a" stroke-width="1"/><line x1="203.9" y1="30.086051099257517" x2="208.70000000000002" y2="30.086051099257517" stroke="#3a3a3a" stroke-width="1"/><line x1="203.9" y1="25.59392151504337" x2="208.70000000000002" y2="25.59392151504337" stroke="#3a3a3a" stroke-width="1"/><line x1="203.9" y1="21.702661872840594" x2="208.70000000000002" y2="21.702661872840594" stroke="#3a3a3a" stroke-width="1"/><line x1="203.9" y1="18.2703276166213" x2="208.70000000000002" y2="18.2703276166213" stroke="#3a3a3a" stroke-width="1"/><line x1="202.9" y1="15.200000000000003" x2="209.70000000000002" y2="15.200000000000003" stroke="#3a3a3a" stroke-width="1"/><line x1="239.41329952303795" y1="146.0" x2="239.41329952303795" y2="151.0" stroke="#3a3a3a" stroke-width="1"/><line x1="258.7833380191629" y1="146.0" x2="258.7833380191629" y2="151.0" stroke="#3a3a3a" stroke-width="1"/><line x1="272.5265990460759" y1="146.0" x2="272.5265990460759" y2="151.0" stroke="#3a3a3a" stroke-width="1"/><line x1="283.1867004769621" y1="146.0" x2="283.1867004769621" y2="151.0" stroke="#3a3a3a" stroke-width="1"/><line x1="291.8966375422008" y1="146.0" x2="291.8966375422008" y2="151.0" stroke="#3a3a3a" stroke-width="1"/><line x1="299.26078440156823" y1="146.0" x2="299.26078440156823" y2="151.0" stroke="#3a3a3a" stroke-width="1"/><line x1="305.6398985691138" y1="146.0" x2="305.6398985691138" y2="151.0" stroke="#3a3a3a" stroke-width="1"/><line x1="311.2666760383257" y1="146.0" x2="311.2666760383257" y2="151.0" stroke="#3a3a3a" stroke-width="1"/><line x1="316.3" y1="146.0" x2="316.3" y2="151.0" stroke="#3a3a3a" stroke-width="1"/><text x="198.7" y="19.3" font-size="10.8" text-anchor="end" font-weight="normal" font-style="normal" letter-spacing="-0.8">100</text><text x="198.7" y="85.8" font-size="10.8" text-anchor="end" font-weight="normal" font-style="normal" letter-spacing="-0.8">10</text><text x="198.7" y="152.4" font-size="10.8" text-anchor="end" font-weight="normal" font-style="normal" letter-spacing="-0.8">1</text><text x="205.2" y="163" font-size="10.8" text-anchor="middle" font-weight="normal" font-style="normal" letter-spacing="-0.5">1:1</text><text x="317" y="162.3" font-size="10.8" text-anchor="middle" font-weight="normal" font-style="normal" letter-spacing="-0.6">1:10</text><text x="225.3" y="172.6" font-size="10.2" text-anchor="start" font-weight="normal" font-style="normal" letter-spacing="1.1">Serum dilution</text><text x="0" y="0" font-size="9.6" text-anchor="middle" transform="translate(187.0,84.6) rotate(-90)" letter-spacing="0.3">% Lysis</text><text x="177.9" y="173.6" font-size="14.6" text-anchor="start" font-weight="bold" font-style="normal" >B</text><text x="296.2" y="22.4" font-size="11.2" text-anchor="start" font-weight="normal" font-style="normal" >Rat serum</text><line x1="296.3" y1="23.6" x2="348.3" y2="23.6" stroke="#222" stroke-width="0.9"/><polyline points="206,27.7 239.8,117.7 274.6,129.5 304.8,148.5" fill="none" stroke="#555" stroke-width="1.1" stroke-dasharray="2.4,2.9"/><polyline points="206.2,32.4 241,39.5 275.8,45.4 305.4,51.5" fill="none" stroke="#222" stroke-width="1"/><path d="M201.0,27.7 L206,24.099999999999998 L211.0,27.7 L206,31.3 Z" fill="#fff" stroke="#000" stroke-width="1.4"/><path d="M234.8,117.7 L239.8,114.10000000000001 L244.8,117.7 L239.8,121.3 Z" fill="#fff" stroke="#000" stroke-width="1.4"/><path d="M269.6,129.5 L274.6,125.9 L279.6,129.5 L274.6,133.1 Z" fill="#fff" stroke="#000" stroke-width="1.4"/><path d="M299.8,148.5 L304.8,144.9 L309.8,148.5 L304.8,152.1 Z" fill="#fff" stroke="#000" stroke-width="1.4"/><path d="M201.0,32.4 L206.2,28.599999999999998 L211.39999999999998,32.4 L206.2,36.199999999999996 Z" fill="#000" stroke="#000" stroke-width="0.8"/><path d="M235.8,39.5 L241,35.7 L246.2,39.5 L241,43.3 Z" fill="#000" stroke="#000" stroke-width="0.8"/><path d="M270.6,45.4 L275.8,41.6 L281.0,45.4 L275.8,49.199999999999996 Z" fill="#000" stroke="#000" stroke-width="0.8"/><path d="M300.2,51.5 L305.4,47.7 L310.59999999999997,51.5 L305.4,55.3 Z" fill="#000" stroke="#000" stroke-width="0.8"/><line x1="206.0" y1="202.8" x2="206.0" y2="336.6" stroke="#3a3a3a" stroke-width="1"/><line x1="202.5" y1="336.1" x2="325" y2="336.1" stroke="#3a3a3a" stroke-width="1"/><line x1="202.6" y1="336.1" x2="209.4" y2="336.1" stroke="#3a3a3a" stroke-width="1"/><line x1="203.6" y1="316.894286276638" x2="208.4" y2="316.894286276638" stroke="#3a3a3a" stroke-width="1"/><line x1="203.6" y1="305.65966394888557" x2="208.4" y2="305.65966394888557" stroke="#3a3a3a" stroke-width="1"/><line x1="203.6" y1="297.688572553276" x2="208.4" y2="297.688572553276" stroke="#3a3a3a" stroke-width="1"/><line x1="203.6" y1="291.505713723362" x2="208.4" y2="291.505713723362" stroke="#3a3a3a" stroke-width="1"/><line x1="203.6" y1="286.45395022552356" x2="208.4" y2="286.45395022552356" stroke="#3a3a3a" stroke-width="1"/><line x1="203.6" y1="282.1827450470904" x2="208.4" y2="282.1827450470904" stroke="#3a3a3a" stroke-width="1"/><line x1="203.6" y1="278.482858829914" x2="208.4" y2="278.482858829914" stroke="#3a3a3a" stroke-width="1"/><line x1="203.6" y1="275.2193278977711" x2="208.4" y2="275.2193278977711" stroke="#3a3a3a" stroke-width="1"/><line x1="202.6" y1="272.3" x2="209.4" y2="272.3" stroke="#3a3a3a" stroke-width="1"/><line x1="203.6" y1="251.89016629398208" x2="208.4" y2="251.89016629398208" stroke="#3a3a3a" stroke-width="1"/><line x1="203.6" y1="239.9511789300069" x2="208.4" y2="239.9511789300069" stroke="#3a3a3a" stroke-width="1"/><line x1="203.6" y1="231.48033258796414" x2="208.4" y2="231.48033258796414" stroke="#3a3a3a" stroke-width="1"/><line x1="203.6" y1="224.90983370601793" x2="208.4" y2="224.90983370601793" stroke="#3a3a3a" stroke-width="1"/><line x1="203.6" y1="219.54134522398897" x2="208.4" y2="219.54134522398897" stroke="#3a3a3a" stroke-width="1"/><line x1="203.6" y1="215.0023528870334" x2="208.4" y2="215.0023528870334" stroke="#3a3a3a" stroke-width="1"/><line x1="203.6" y1="211.07049888194624" x2="208.4" y2="211.07049888194624" stroke="#3a3a3a" stroke-width="1"/><line x1="203.6" y1="207.60235786001377" x2="208.4" y2="207.60235786001377" stroke="#3a3a3a" stroke-width="1"/><line x1="202.6" y1="204.5" x2="209.4" y2="204.5" stroke="#3a3a3a" stroke-width="1"/><line x1="222.10510476802298" y1="333.6" x2="222.10510476802298" y2="338.6" stroke="#3a3a3a" stroke-width="1"/><line x1="231.52598712750193" y1="333.6" x2="231.52598712750193" y2="338.6" stroke="#3a3a3a" stroke-width="1"/><line x1="238.210209536046" y1="333.6" x2="238.210209536046" y2="338.6" stroke="#3a3a3a" stroke-width="1"/><line x1="243.39489523197702" y1="333.6" x2="243.39489523197702" y2="338.6" stroke="#3a3a3a" stroke-width="1"/><line x1="247.63109189552495" y1="333.6" x2="247.63109189552495" y2="338.6" stroke="#3a3a3a" stroke-width="1"/><line x1="251.21274514076273" y1="333.6" x2="251.21274514076273" y2="338.6" stroke="#3a3a3a" stroke-width="1"/><line x1="254.31531430406898" y1="333.6" x2="254.31531430406898" y2="338.6" stroke="#3a3a3a" stroke-width="1"/><line x1="257.05197425500387" y1="333.6" x2="257.05197425500387" y2="338.6" stroke="#3a3a3a" stroke-width="1"/><line x1="259.5" y1="333.6" x2="259.5" y2="338.6" stroke="#3a3a3a" stroke-width="1"/><line x1="259.5" y1="333.6" x2="259.5" y2="338.6" stroke="#3a3a3a" stroke-width="1"/><line x1="275.605104768023" y1="333.6" x2="275.605104768023" y2="338.6" stroke="#3a3a3a" stroke-width="1"/><line x1="285.02598712750193" y1="333.6" x2="285.02598712750193" y2="338.6" stroke="#3a3a3a" stroke-width="1"/><line x1="291.710209536046" y1="333.6" x2="291.710209536046" y2="338.6" stroke="#3a3a3a" stroke-width="1"/><line x1="296.894895231977" y1="333.6" x2="296.894895231977" y2="338.6" stroke="#3a3a3a" stroke-width="1"/><line x1="301.13109189552495" y1="333.6" x2="301.13109189552495" y2="338.6" stroke="#3a3a3a" stroke-width="1"/><line x1="304.71274514076276" y1="333.6" x2="304.71274514076276" y2="338.6" stroke="#3a3a3a" stroke-width="1"/><line x1="307.815314304069" y1="333.6" x2="307.815314304069" y2="338.6" stroke="#3a3a3a" stroke-width="1"/><line x1="310.55197425500387" y1="333.6" x2="310.55197425500387" y2="338.6" stroke="#3a3a3a" stroke-width="1"/><line x1="313.0" y1="333.6" x2="313.0" y2="338.6" stroke="#3a3a3a" stroke-width="1"/><line x1="313.0" y1="333.6" x2="313.0" y2="338.6" stroke="#3a3a3a" stroke-width="1"/><text x="198.7" y="209.0" font-size="10.8" text-anchor="end" font-weight="normal" font-style="normal" letter-spacing="-0.8">100</text><text x="198.2" y="276.2" font-size="10.8" text-anchor="end" font-weight="normal" font-style="normal" letter-spacing="-0.8">10</text><text x="198.5" y="339.9" font-size="10.8" text-anchor="end" font-weight="normal" font-style="normal" letter-spacing="-0.8">1</text><text x="205.2" y="351.4" font-size="10.8" text-anchor="middle" font-weight="normal" font-style="normal" letter-spacing="-0.5">1:1</text><text x="258.2" y="351.4" font-size="10.8" text-anchor="middle" font-weight="normal" font-style="normal" letter-spacing="-0.6">1:10</text><text x="308.0" y="351.4" font-size="10.8" text-anchor="middle" font-weight="normal" font-style="normal" letter-spacing="-0.6">1:100</text><text x="224.8" y="360.6" font-size="10.2" text-anchor="start" font-weight="normal" font-style="normal" letter-spacing="1.1">Serum dilution</text><text x="0" y="0" font-size="9.6" text-anchor="middle" transform="translate(187.0,272.6) rotate(-90)" letter-spacing="0.3">% Lysis</text><text x="177.9" y="360.1" font-size="14.6" text-anchor="start" font-weight="bold" font-style="normal" >D</text><text x="277.3" y="208.5" font-size="11.3" text-anchor="start" font-weight="normal" font-style="normal" >Human serum</text><line x1="278" y1="209.9" x2="348.3" y2="209.9" stroke="#222" stroke-width="0.9"/><polyline points="206,226.2 253,297.9 269,336.2 286.2,336.2 300.4,336.2 317.2,336.2" fill="none" stroke="#555" stroke-width="1.1" stroke-dasharray="2.4,2.9"/><polyline points="206,220.2 222.8,224.6 238.6,235.6 253.9,262.9 269.6,306.9 286.2,336.1 300.4,336.1 317.2,336.1" fill="none" stroke="#555" stroke-width="1.1" stroke-dasharray="2.4,2.9"/><polyline points="206,213.2 223,224 238.4,229.9 253.2,235.8 268.3,245.3 285.4,252.3 301.4,268.6 316.8,317.5" fill="none" stroke="#222" stroke-width="1"/><polyline points="206,216 223,218.6 238.4,225.8 253.9,227.2 268.9,241.7 285.4,252.3" fill="none" stroke="#222" stroke-width="1"/><rect x="203.5" y="223.7" width="5" height="5" fill="#fff" stroke="#000" stroke-width="1"/><rect x="250.5" y="295.4" width="5" height="5" fill="#fff" stroke="#000" stroke-width="1"/><rect x="266.5" y="333.7" width="5" height="5" fill="#fff" stroke="#000" stroke-width="1"/><rect x="283.7" y="333.7" width="5" height="5" fill="#fff" stroke="#000" stroke-width="1"/><rect x="297.9" y="333.7" width="5" height="5" fill="#fff" stroke="#000" stroke-width="1"/><rect x="314.7" y="333.7" width="5" height="5" fill="#fff" stroke="#000" stroke-width="1"/><circle cx="206" cy="220.2" r="3.2" fill="#fff" stroke="#000" stroke-width="1"/><circle cx="222.8" cy="224.6" r="3.2" fill="#fff" stroke="#000" stroke-width="1"/><circle cx="238.6" cy="235.6" r="3.2" fill="#fff" stroke="#000" stroke-width="1"/><circle cx="253.9" cy="262.9" r="3.2" fill="#fff" stroke="#000" stroke-width="1"/><circle cx="269.6" cy="306.9" r="3.2" fill="#fff" stroke="#000" stroke-width="1"/><circle cx="286.2" cy="336.1" r="3.2" fill="#fff" stroke="#000" stroke-width="1"/><circle cx="300.4" cy="336.1" r="3.2" fill="#fff" stroke="#000" stroke-width="1"/><circle cx="317.2" cy="336.1" r="3.2" fill="#fff" stroke="#000" stroke-width="1"/><rect x="203.4" y="210.6" width="5.2" height="5.2" fill="#000" stroke="#000" stroke-width="0.5"/><rect x="250.6" y="233.20000000000002" width="5.2" height="5.2" fill="#000" stroke="#000" stroke-width="0.5"/><rect x="265.7" y="242.70000000000002" width="5.2" height="5.2" fill="#000" stroke="#000" stroke-width="0.5"/><rect x="282.79999999999995" y="249.70000000000002" width="5.2" height="5.2" fill="#000" stroke="#000" stroke-width="0.5"/><rect x="298.79999999999995" y="266.0" width="5.2" height="5.2" fill="#000" stroke="#000" stroke-width="0.5"/><rect x="314.2" y="314.9" width="5.2" height="5.2" fill="#000" stroke="#000" stroke-width="0.5"/><circle cx="206" cy="216" r="3.3" fill="#000" stroke="#000" stroke-width="0.5"/><circle cx="223" cy="218.6" r="3.3" fill="#000" stroke="#000" stroke-width="0.5"/><circle cx="238.4" cy="225.8" r="3.3" fill="#000" stroke="#000" stroke-width="0.5"/><circle cx="253.9" cy="227.2" r="3.3" fill="#000" stroke="#000" stroke-width="0.5"/><circle cx="268.9" cy="241.7" r="3.3" fill="#000" stroke="#000" stroke-width="0.5"/><circle cx="285.4" cy="252.3" r="3.3" fill="#000" stroke="#000" stroke-width="0.5"/><circle cx="222.8" cy="224.6" r="3.2" fill="#fff" stroke="#000" stroke-width="1"/><circle cx="206" cy="220.2" r="3.2" fill="#fff" stroke="#000" stroke-width="1"/><rect x="203.5" y="223.7" width="5" height="5" fill="#fff" stroke="#000" stroke-width="1"/><line x1="392.5" y1="9.9" x2="392.5" y2="148.7" stroke="#3a3a3a" stroke-width="1"/><line x1="392.5" y1="148.2" x2="511.5" y2="148.2" stroke="#3a3a3a" stroke-width="1"/><line x1="390.0" y1="148.2" x2="395.0" y2="148.2" stroke="#3a3a3a" stroke-width="1"/><text x="386.7" y="152.0" font-size="10.8" text-anchor="end" font-weight="normal" font-style="normal" letter-spacing="-0.8">0</text><line x1="390.0" y1="122.33999999999999" x2="395.0" y2="122.33999999999999" stroke="#3a3a3a" stroke-width="1"/><text x="386.7" y="126.13999999999999" font-size="10.8" text-anchor="end" font-weight="normal" font-style="normal" letter-spacing="-0.8">20</text><line x1="390.0" y1="96.47999999999999" x2="395.0" y2="96.47999999999999" stroke="#3a3a3a" stroke-width="1"/><text x="386.7" y="100.27999999999999" font-size="10.8" text-anchor="end" font-weight="normal" font-style="normal" letter-spacing="-0.8">40</text><line x1="390.0" y1="70.61999999999999" x2="395.0" y2="70.61999999999999" stroke="#3a3a3a" stroke-width="1"/><text x="386.7" y="74.41999999999999" font-size="10.8" text-anchor="end" font-weight="normal" font-style="normal" letter-spacing="-0.8">60</text><line x1="390.0" y1="44.75999999999999" x2="395.0" y2="44.75999999999999" stroke="#3a3a3a" stroke-width="1"/><text x="386.7" y="48.55999999999999" font-size="10.8" text-anchor="end" font-weight="normal" font-style="normal" letter-spacing="-0.8">80</text><line x1="390.0" y1="18.900000000000006" x2="395.0" y2="18.900000000000006" stroke="#3a3a3a" stroke-width="1"/><text x="386.7" y="22.700000000000006" font-size="10.8" text-anchor="end" font-weight="normal" font-style="normal" letter-spacing="-0.8">100</text><line x1="453.0" y1="145.2" x2="453.0" y2="150.7" stroke="#3a3a3a" stroke-width="1"/><line x1="511.0" y1="145.2" x2="511.0" y2="150.7" stroke="#3a3a3a" stroke-width="1"/><text x="392.5" y="161.6" font-size="10.8" text-anchor="middle" font-weight="normal" font-style="normal" letter-spacing="-0.8">0</text><text x="451.2" y="161.6" font-size="10.8" text-anchor="middle" font-weight="normal" font-style="normal" letter-spacing="-0.8">60</text><text x="504.9" y="161.6" font-size="10.8" text-anchor="middle" font-weight="normal" font-style="normal" letter-spacing="-0.8">120</text><text x="412.6" y="173.89999999999998" font-size="10.2" text-anchor="start" font-weight="normal" font-style="normal" letter-spacing="1.0">Minutes at 37˚C</text><text x="0" y="0" font-size="11.3" text-anchor="middle" transform="translate(365.3,76.7) rotate(-90)" >CD24(-) red cells (normalized)</text><text x="356.0" y="172.9" font-size="15.4" text-anchor="start" font-weight="bold" font-style="normal" >C</text><polyline points="392.5,19.2 453.7,15.5 510.8,13.3" fill="none" stroke="#5a5a5a" stroke-width="1.1" stroke-dasharray="3.2,4.2"/><polyline points="392.5,19.2 453.7,12 510.8,14.5" fill="none" stroke="#5a5a5a" stroke-width="1.1" stroke-dasharray="3.2,4.2"/><polyline points="392.5,19.2 453.9,24.9 510.8,17" fill="none" stroke="#5a5a5a" stroke-width="1.1" stroke-dasharray="3.2,4.2"/><polyline points="392.5,19.2 453.5,95.9 511.5,103.8" fill="none" stroke="#222" stroke-width="1"/><polyline points="392.5,19.2 453.6,104 511.5,118.1" fill="none" stroke="#222" stroke-width="1"/><polyline points="392.5,19.2 452.8,111.4 511.5,126.2" fill="none" stroke="#222" stroke-width="1"/><rect x="390.0" y="16.7" width="5" height="5" fill="#fff" stroke="#000" stroke-width="1"/><rect x="451.2" y="93.60000000000001" width="4.6" height="4.6" fill="#fff" stroke="#000" stroke-width="1"/><rect x="509.2" y="101.5" width="4.6" height="4.6" fill="#fff" stroke="#000" stroke-width="1"/><rect x="451.59999999999997" y="22.599999999999998" width="4.6" height="4.6" fill="#fff" stroke="#000" stroke-width="1"/><rect x="508.5" y="15.0" width="4.6" height="4.6" fill="#fff" stroke="#000" stroke-width="1"/><path d="M450.90000000000003,104 L453.6,101.2 L456.3,104 L453.6,106.8 Z" fill="#fff" stroke="#000" stroke-width="1"/><path d="M508.8,118.1 L511.5,115.3 L514.2,118.1 L511.5,120.89999999999999 Z" fill="#fff" stroke="#000" stroke-width="1"/><path d="M451.0,11.9 L453.7,9.100000000000001 L456.4,11.9 L453.7,14.7 Z" fill="#fff" stroke="#000" stroke-width="1"/><path d="M508.1,13.8 L510.8,11.0 L513.5,13.8 L510.8,16.6 Z" fill="#fff" stroke="#000" stroke-width="1"/><path d="M452.8,108.85000000000001 L455.3,113.65 L450.3,113.65 Z" fill="#fff" stroke="#000" stroke-width="1"/><path d="M511.5,123.65 L514.0,128.45 L509.0,128.45 Z" fill="#fff" stroke="#000" stroke-width="1"/><path d="M453.7,12.85 L456.2,17.65 L451.2,17.65 Z" fill="#fff" stroke="#000" stroke-width="1"/><path d="M510.8,10.049999999999999 L513.3,14.85 L508.3,14.85 Z" fill="#fff" stroke="#000" stroke-width="1"/><line x1="392.5" y1="186.6" x2="392.5" y2="337.1" stroke="#3a3a3a" stroke-width="1"/><line x1="392.5" y1="336.6" x2="511.8" y2="336.6" stroke="#3a3a3a" stroke-width="1"/><line x1="390.0" y1="336.6" x2="395.0" y2="336.6" stroke="#3a3a3a" stroke-width="1"/><text x="386.7" y="340.40000000000003" font-size="10.8" text-anchor="end" font-weight="normal" font-style="normal" letter-spacing="-0.8">0</text><line x1="390.0" y1="310.24" x2="395.0" y2="310.24" stroke="#3a3a3a" stroke-width="1"/><text x="386.7" y="314.04" font-size="10.8" text-anchor="end" font-weight="normal" font-style="normal" letter-spacing="-0.8">20</text><line x1="390.0" y1="283.88" x2="395.0" y2="283.88" stroke="#3a3a3a" stroke-width="1"/><text x="386.7" y="287.68" font-size="10.8" text-anchor="end" font-weight="normal" font-style="normal" letter-spacing="-0.8">40</text><line x1="390.0" y1="257.52000000000004" x2="395.0" y2="257.52000000000004" stroke="#3a3a3a" stroke-width="1"/><text x="386.7" y="261.32000000000005" font-size="10.8" text-anchor="end" font-weight="normal" font-style="normal" letter-spacing="-0.8">60</text><line x1="390.0" y1="231.16000000000003" x2="395.0" y2="231.16000000000003" stroke="#3a3a3a" stroke-width="1"/><text x="386.7" y="234.96000000000004" font-size="10.8" text-anchor="end" font-weight="normal" font-style="normal" letter-spacing="-0.8">80</text><line x1="390.0" y1="204.8" x2="395.0" y2="204.8" stroke="#3a3a3a" stroke-width="1"/><text x="386.7" y="208.60000000000002" font-size="10.8" text-anchor="end" font-weight="normal" font-style="normal" letter-spacing="-0.8">100</text><line x1="453.5" y1="333.6" x2="453.5" y2="339.1" stroke="#3a3a3a" stroke-width="1"/><line x1="511.3" y1="333.6" x2="511.3" y2="339.1" stroke="#3a3a3a" stroke-width="1"/><text x="392.5" y="348.8" font-size="10.8" text-anchor="middle" font-weight="normal" font-style="normal" letter-spacing="-0.8">0</text><text x="451.7" y="348.8" font-size="10.8" text-anchor="middle" font-weight="normal" font-style="normal" letter-spacing="-0.8">60</text><text x="505.2" y="348.8" font-size="10.8" text-anchor="middle" font-weight="normal" font-style="normal" letter-spacing="-0.8">120</text><text x="412.6" y="361.0" font-size="10.2" text-anchor="start" font-weight="normal" font-style="normal" letter-spacing="1.0">Minutes at 37˚C</text><text x="0" y="0" font-size="11.3" text-anchor="middle" transform="translate(365.3,265.8) rotate(-90)" >CD24(-) red cells (normalized)</text><text x="356.7" y="359.6" font-size="14.6" text-anchor="start" font-weight="bold" font-style="normal" >E</text><polyline points="392.5,205 452.8,187.8 511.3,191" fill="none" stroke="#5a5a5a" stroke-width="1.1" stroke-dasharray="3.2,4.2"/><polyline points="392.5,205 452.8,192 511.3,195.5" fill="none" stroke="#5a5a5a" stroke-width="1.1" stroke-dasharray="3.2,4.2"/><polyline points="392.5,205 452.8,196 511.3,199" fill="none" stroke="#5a5a5a" stroke-width="1.1" stroke-dasharray="3.2,4.2"/><polyline points="392.5,205 452.8,199.5 511.3,202.5" fill="none" stroke="#5a5a5a" stroke-width="1.1" stroke-dasharray="3.2,4.2"/><polyline points="392.5,205 452.8,202.8 511.3,205.5" fill="none" stroke="#5a5a5a" stroke-width="1.1" stroke-dasharray="3.2,4.2"/><polyline points="392.5,205 452.8,201 511.3,208.5" fill="none" stroke="#5a5a5a" stroke-width="1.1" stroke-dasharray="3.2,4.2"/><polyline points="392.5,205 454,251.2 511.3,256.8" fill="none" stroke="#222" stroke-width="1"/><polyline points="392.5,205 454,251.2 511.3,279.5" fill="none" stroke="#222" stroke-width="1"/><polyline points="392.5,205 453.6,275 511.3,281.6" fill="none" stroke="#222" stroke-width="1"/><polyline points="392.5,205 453.6,281.4 511.3,313.8" fill="none" stroke="#222" stroke-width="1"/><polyline points="392.5,205 453.6,287.4 511.3,326.3" fill="none" stroke="#222" stroke-width="1"/><polyline points="392.5,205 453.6,300.4 511.3,306.3" fill="none" stroke="#222" stroke-width="1"/><rect x="390.0" y="202.5" width="5" height="5" fill="#fff" stroke="#000" stroke-width="1"/><rect x="450.5" y="185.5" width="4.6" height="4.6" fill="#fff" stroke="#000" stroke-width="1"/><rect x="450.5" y="189.7" width="4.6" height="4.6" fill="#fff" stroke="#000" stroke-width="1"/><path d="M452.8,193.54 L455.2,198.16 L450.40000000000003,198.16 Z" fill="#fff" stroke="#000" stroke-width="1"/><circle cx="452.8" cy="202.6" r="2.5" fill="#fff" stroke="#000" stroke-width="1"/><circle cx="452.8" cy="199.6" r="2.4" fill="#fff" stroke="#000" stroke-width="1"/><path d="M511.3,206.04 L513.7,210.66 L508.90000000000003,210.66 Z" fill="#fff" stroke="#000" stroke-width="1"/><path d="M508.8,205.5 L511.3,203.0 L513.8,205.5 L511.3,208.0 Z" fill="#fff" stroke="#000" stroke-width="1.3"/><path d="M511.3,200.04 L513.7,204.66 L508.90000000000003,204.66 Z" fill="#fff" stroke="#000" stroke-width="1"/><rect x="509.0" y="196.7" width="4.6" height="4.6" fill="#fff" stroke="#000" stroke-width="1"/><rect x="509.0" y="193.2" width="4.6" height="4.6" fill="#fff" stroke="#000" stroke-width="1"/><circle cx="511.3" cy="191" r="2.6" fill="#fff" stroke="#000" stroke-width="1"/><path d="M453.6,248.55999999999997 L456.20000000000005,253.54 L451.0,253.54 Z" fill="#fff" stroke="#000" stroke-width="1"/><path d="M454.4,247.95999999999998 L457.0,252.94 L451.79999999999995,252.94 Z" fill="#fff" stroke="#000" stroke-width="1"/><path d="M511.3,254.25 L513.8,259.05 L508.8,259.05 Z" fill="#fff" stroke="#000" stroke-width="1"/><circle cx="453.6" cy="275" r="2.7" fill="#fff" stroke="#000" stroke-width="1"/><circle cx="453.6" cy="281.4" r="2.7" fill="#fff" stroke="#000" stroke-width="1"/><rect x="451.3" y="285.09999999999997" width="4.6" height="4.6" fill="#fff" stroke="#000" stroke-width="1"/><rect x="451.3" y="298.09999999999997" width="4.6" height="4.6" fill="#fff" stroke="#000" stroke-width="1"/><circle cx="511.3" cy="281.6" r="2.8" fill="#fff" stroke="#000" stroke-width="1"/><path d="M509.1,279 L511.6,276.5 L514.1,279 L511.6,281.5 Z" fill="none" stroke="#000" stroke-width="1.3"/><circle cx="511.3" cy="313.8" r="2.7" fill="#fff" stroke="#000" stroke-width="1"/><rect x="509.0" y="304.0" width="4.6" height="4.6" fill="#fff" stroke="#000" stroke-width="1"/><rect x="509.0" y="324.0" width="4.6" height="4.6" fill="#fff" stroke="#000" stroke-width="1"/><text x="5.6" y="21" font-size="14" text-anchor="start" font-weight="bold" font-style="normal" >A</text><text x="24.5" y="19.2" font-size="11" text-anchor="start" font-weight="normal" font-style="italic" >ΔPiga</text><line x1="20" y1="21.6" x2="59.8" y2="21.6" stroke="#222" stroke-width="1"/><text x="75" y="18.8" font-size="11.2" text-anchor="start" font-weight="normal" font-style="normal" >Control</text><line x1="70.6" y1="21.6" x2="116" y2="21.6" stroke="#222" stroke-width="1"/><text x="138.4" y="87.6" font-size="11" text-anchor="start" font-weight="normal" font-style="normal" >1:1</text><text x="138.4" y="173" font-size="11" text-anchor="start" font-weight="normal" font-style="normal" >1:2</text><text x="138.4" y="254.2" font-size="11" text-anchor="start" font-weight="normal" font-style="normal" >1:4</text><text x="138.4" y="335.1" font-size="11" text-anchor="start" font-weight="normal" font-style="normal" >1:8</text><text x="0" y="0" font-size="11.5" text-anchor="middle" transform="translate(166,178.8) rotate(-90)" >Serum dilution</text><text x="29.5" y="360.8" font-size="10.2" text-anchor="middle" font-weight="normal" font-style="normal" >S</text><text x="53.3" y="360.8" font-size="10.2" text-anchor="middle" font-weight="normal" font-style="normal" >HS</text><text x="90.2" y="360.8" font-size="10.2" text-anchor="middle" font-weight="normal" font-style="normal" >S</text><text x="112.3" y="360.8" font-size="10.2" text-anchor="middle" font-weight="normal" font-style="normal" >HS</text></svg>
</body></html>
